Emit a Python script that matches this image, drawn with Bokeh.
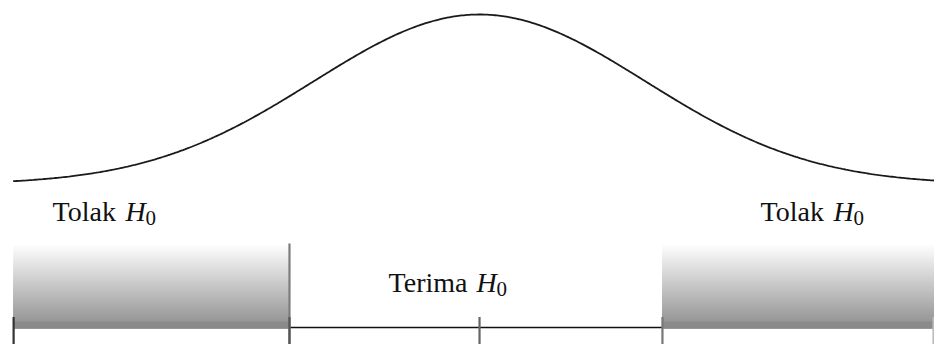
import numpy as np
from bokeh.plotting import figure
from bokeh.models import Range1d
from bokeh.core.properties import value
from bokeh.embed import file_html
from bokeh.resources import INLINE

# Standardised test statistic axis (mean 0, unit standard deviation)
tick_z = [-2.807, -1.145, 0.0, 1.102, 2.735]   # axis ends, critical values, mean
crit_left = tick_z[1]
crit_right = tick_z[3]
edge_left = tick_z[0]
edge_right = 2.741

# Region labels
region_text = ["Tolak", "Terima", "Tolak"]
region_x = [-2.572, -0.548, 1.693]
region_sym = ["H", "H", "H"]
region_sub = ["0", "0", "0"]

# Normal density curve
z = np.linspace(-2.81, 2.741, 500)
density = np.exp(-z ** 2 / 2) / np.sqrt(2 * np.pi)

# vertical layout below the curve (density units, below zero)
y_label_tolak = -0.0645
y_label_terima = -0.230
y_box_top = -0.1385
y_band_top = -0.3215
y_base = -0.3356
y_tick_top = -0.3110
y_bottom = -0.3755

W, H = 934, 344
p = figure(width=W, height=H, output_backend="svg", toolbar_location=None,
           x_range=Range1d(-2.886, 2.741), y_range=Range1d(y_bottom, 0.4318),
           min_border=0, min_border_left=0, min_border_right=0,
           min_border_top=0, min_border_bottom=0)
p.axis.visible = False
p.grid.visible = False
p.outline_line_color = None
p.background_fill_color = "white"
p.border_fill_color = "white"

# baseline of the axis
p.segment(x0=[edge_left], y0=[y_base], x1=[edge_right], y1=[y_base],
          line_color="#111111", line_width=1.6)

# shaded rejection regions: vertical grey gradient built from stacked strips,
# each strip reaching down to the dark band so no seams show between them
n = 60
tops = np.linspace(y_box_top, y_band_top, n + 1)[:-1]
shade = np.linspace(255, 152, n)
colors = ["#%02x%02x%02x" % (int(c), int(c), int(c)) for c in shade]
for lo, hi in [(edge_left, crit_left), (crit_right, edge_right + 0.01)]:
    p.quad(left=[lo] * n, right=[hi] * n, top=tops, bottom=[y_band_top] * n,
           fill_color=colors, line_color=None)
    p.quad(left=[lo], right=[hi], top=[y_band_top], bottom=[y_base - 0.003],
           fill_color="#8a8a8a", line_color=None)

# boundary of the acceptance region
p.segment(x0=[crit_left], y0=[y_box_top], x1=[crit_left], y1=[y_bottom],
          line_color="#7c7c7c", line_width=2.2)

# tick marks on the axis
tick_colors = ["#333333", "#555555", "#666666", "#777777", "#bbbbbb"]
p.segment(x0=tick_z, y0=[y_tick_top] * 5, x1=tick_z, y1=[y_bottom] * 5,
          line_color=tick_colors, line_width=2.2)

# the sampling distribution
p.line(z, density, line_color="#1a1a1a", line_width=1.8)

# region labels: word, italic H and subscript 0
font = value("Liberation Serif")
label_y = [y_label_tolak, y_label_terima, y_label_tolak]
word_width = [73, 88, 73]
p.text(x=region_x, y=label_y, text=region_text, text_font=font,
       text_font_size="28px", text_color="#111111", text_baseline="alphabetic",
       text_align="left")
p.text(x=region_x, y=label_y, text=region_sym, text_font=font,
       text_font_style="italic", text_font_size="28px", text_color="#111111",
       text_baseline="alphabetic", text_align="left", x_offset=word_width)
p.text(x=region_x, y=label_y, text=region_sub, text_font=font,
       text_font_size="21px", text_color="#111111", text_baseline="alphabetic",
       text_align="left", x_offset=[w + 20 for w in word_width], y_offset=6)

open("out.html", "w").write(file_html(p, INLINE))
